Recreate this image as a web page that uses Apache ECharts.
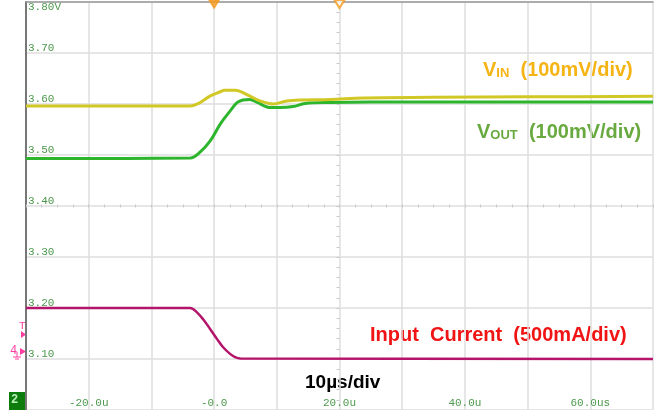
<!DOCTYPE html>
<html>
<head>
<meta charset="utf-8">
<script src="https://cdn.jsdelivr.net/npm/echarts@6/dist/echarts.min.js"></script>
<style>
  html, body { margin: 0; padding: 0; background: #fff; }
  #chart { width: 660px; height: 410px; }
</style>
</head>
<body>
<div id="chart"></div>
<script>
// Time base in microseconds (10 µs/div), vertical scale in volts (100 mV/div)
const xTickValues = [-20, 0, 20, 40, 60];
const xTickLabels = ['-20.0u', '-0.0', '20.0u', '40.0u', '60.0us'];
const yTickValues = ['3.10', '3.20', '3.30', '3.40', '3.50', '3.60', '3.70'];
const yTickLabels = ['3.10', '3.20', '3.30', '3.40', '3.50', '3.60', '3.70'];
const yTopLabel = '3.80V';

// VIN trace (V)
const vinTime = [-30, -3.8, -2.2, -0.6, 1.0, 1.6, 3.4, 5.3, 7.3, 9.4, 11.6, 13.7, 18.5, 23.8, 35, 50, 70];
const vinVolts = [3.596, 3.596, 3.603, 3.616, 3.624, 3.627, 3.627, 3.618, 3.606, 3.600, 3.606, 3.608, 3.609, 3.612, 3.613, 3.614, 3.615];

// VOUT trace (V)
const voutTime = [-30, -3.8, -2.2, -0.6, 1.0, 2.6, 3.7, 4.6, 5.7, 6.9, 8.9, 10.5, 12.6, 14.5, 18.5, 25, 50, 70];
const voutVolts = [3.493, 3.494, 3.506, 3.528, 3.561, 3.587, 3.603, 3.608, 3.609, 3.603, 3.593, 3.593, 3.595, 3.601, 3.603, 3.604, 3.604, 3.604];

// Input current trace (mA, 500 mA/div)
const curTime = [-30, -3.8, -2.7, -1.75, -0.64, 0.48, 1.44, 2.55, 3.35, 4.2, 70];
const curMilliamps = [1000, 1000, 955, 890, 795, 695, 615, 550, 518, 505, 500];

// Trigger position markers along the top edge (µs)
const triggerMarks = [0, 20];

function pairs(t, v) { return t.map((x, i) => [x, v[i]]); }

const chart = echarts.init(document.getElementById('chart'), null, { renderer: 'canvas' });

const monoLabel = { fontFamily: 'Liberation Mono, DejaVu Sans Mono, monospace', fontSize: 11, color: '#4c984c' };
const gridColor = '#dedede';

chart.setOption({
  backgroundColor: '#ffffff',
  animation: false,
  grid: { left: 26, right: 7, top: 2, bottom: -2.5 },
  xAxis: [
    {
      type: 'value', min: -30, max: 70, interval: 10, position: 'bottom',
      axisLine: { show: false, onZero: false }, axisTick: { show: false },
      splitLine: { show: true, lineStyle: { color: gridColor, width: 1.5 } },
      axisLabel: {
        inside: true, margin: 1, verticalAlign: 'bottom', ...monoLabel,
        formatter: v => { const i = xTickValues.indexOf(Math.round(v)); return i >= 0 ? xTickLabels[i] : ''; }
      }
    },
    {
      type: 'value', min: -30, max: 70, position: 'top',
      axisLine: { show: true, onZero: false, lineStyle: { color: '#999999', width: 1.5 } },
      axisTick: { show: false }, axisLabel: { show: false }, splitLine: { show: false }
    },
    {
      // centre graticule line with fine division ticks
      type: 'value', min: -30, max: 70, interval: 10, position: 'bottom', offset: -205.5,
      axisLine: { show: false, onZero: false }, axisLabel: { show: false }, splitLine: { show: false },
      axisTick: { show: true, length: 3, lineStyle: { color: '#c8c8c8' } },
      minorTick: { show: true, splitNumber: 4, length: 3, lineStyle: { color: '#c8c8c8' } }
    }
  ],
  yAxis: [
    {
      type: 'value', min: 3.0, max: 3.8, interval: 0.1, position: 'left',
      axisLine: { show: true, onZero: false, lineStyle: { color: '#777777', width: 2 } },
      axisTick: { show: false },
      splitLine: { show: true, lineStyle: { color: gridColor, width: 1.5 } },
      axisLabel: {
        inside: true, margin: 2, align: 'left', verticalAlign: 'bottom', lineHeight: 10, ...monoLabel,
        formatter: v => { const i = yTickValues.indexOf(v.toFixed(2)); return i >= 0 ? yTickLabels[i] : ''; }
      }
    },
    {
      type: 'value', min: 3.0, max: 3.8, interval: 0.1, position: 'left',
      axisLine: { show: false, onZero: false }, axisTick: { show: false }, splitLine: { show: false },
      axisLabel: {
        inside: true, margin: 2, align: 'left', verticalAlign: 'top', lineHeight: 10, ...monoLabel,
        formatter: v => (v.toFixed(2) === '3.80' ? yTopLabel : '')
      }
    },
    {
      // input current channel, 500 mA/div
      type: 'value', min: 0, max: 4000, show: false,
      axisLine: { onZero: false }
    },
    {
      // centre graticule line with fine division ticks
      type: 'value', min: 3.0, max: 3.8, interval: 0.1, position: 'left', offset: -313.5,
      axisLine: { show: false, onZero: false }, axisLabel: { show: false }, splitLine: { show: false },
      axisTick: { show: true, length: 3, lineStyle: { color: '#c8c8c8' } },
      minorTick: { show: true, splitNumber: 5, length: 3, lineStyle: { color: '#c8c8c8' } }
    }
  ],
  series: [
    {
      name: 'VOUT', type: 'line', xAxisIndex: 0, yAxisIndex: 0,
      data: pairs(voutTime, voutVolts), smooth: 0.35, showSymbol: false,
      lineStyle: { color: '#2db52d', width: 3 }
    },
    {
      name: 'VIN', type: 'line', xAxisIndex: 0, yAxisIndex: 0,
      data: pairs(vinTime, vinVolts), smooth: 0.35, showSymbol: false,
      lineStyle: { color: '#d2c825', width: 3 }
    },
    {
      name: 'Input Current', type: 'line', xAxisIndex: 0, yAxisIndex: 2,
      data: pairs(curTime, curMilliamps), smooth: 0.35, showSymbol: false,
      lineStyle: { color: '#b5146b', width: 2.5 }
    },
    {
      name: 'Trigger', type: 'scatter', xAxisIndex: 0, yAxisIndex: 0,
      data: triggerMarks.map(t => [t, 3.8]), symbolRotate: 180, symbolOffset: [0, 2],
      symbol: (v, p) => (p.dataIndex === 0 ? 'triangle' : 'emptyTriangle'),
      symbolSize: [10, 8], clip: false,
      itemStyle: { color: '#f59a1e', borderColor: '#f59a1e', borderWidth: 1.5 }
    }
  ],
  graphic: [
    {
      type: 'text', x: 483, y: 80,
      style: {
        text: '{v|V}{s|IN}{v|  (100mV/div)}', verticalAlign: 'bottom',
        rich: {
          v: { fontFamily: 'Liberation Sans, Arial', fontWeight: 'bold', fontSize: 20, fill: '#f5b414', verticalAlign: 'bottom', lineHeight: 22 },
          s: { fontFamily: 'Liberation Sans, Arial', fontWeight: 'bold', fontSize: 13, fill: '#f5b414', verticalAlign: 'bottom', lineHeight: 22 }
        }
      }
    },
    {
      type: 'text', x: 477, y: 142,
      style: {
        text: '{v|V}{s|OUT}{v|  (100mV/div)}', verticalAlign: 'bottom',
        rich: {
          v: { fontFamily: 'Liberation Sans, Arial', fontWeight: 'bold', fontSize: 20, fill: '#68aa40', verticalAlign: 'bottom', lineHeight: 22 },
          s: { fontFamily: 'Liberation Sans, Arial', fontWeight: 'bold', fontSize: 13, fill: '#68aa40', verticalAlign: 'bottom', lineHeight: 22 }
        }
      }
    },
    {
      type: 'text', x: 370, y: 345,
      style: {
        text: 'Input  Current  (500mA/div)', verticalAlign: 'bottom',
        font: 'bold 20px "Liberation Sans", Arial', fill: '#f01414'
      }
    },
    {
      type: 'text', x: 305, y: 392,
      style: {
        text: '10µs/div', verticalAlign: 'bottom',
        font: 'bold 19px "Liberation Sans", Arial', fill: '#000000'
      }
    },
    // channel reference markers on the left edge
    { type: 'text', x: 19, y: 326, style: { text: 'T', font: '11px "Liberation Mono", monospace', fill: '#ff3d9e', align: 'left', verticalAlign: 'middle' } },
    { type: 'polygon', shape: { points: [[21, 331], [26, 334.5], [21, 338]] }, style: { fill: '#ff3d9e' } },
    { type: 'text', x: 10, y: 351, style: { text: '4', font: '12px "Liberation Mono", monospace', fill: '#ff3d9e', align: 'left', verticalAlign: 'middle' } },
    { type: 'polygon', shape: { points: [[20, 348], [26, 351.5], [20, 355]] }, style: { fill: '#ff3d9e' } },
    { type: 'line', shape: { x1: 17, y1: 352, x2: 17, y2: 357 }, style: { stroke: '#ff3d9e', lineWidth: 1 } },
    { type: 'line', shape: { x1: 13, y1: 357, x2: 21, y2: 357 }, style: { stroke: '#ff3d9e', lineWidth: 1 } },
    { type: 'line', shape: { x1: 15, y1: 359, x2: 19, y2: 359 }, style: { stroke: '#ff3d9e', lineWidth: 1 } },
    { type: 'rect', shape: { x: 9, y: 392, width: 16, height: 18 }, style: { fill: '#0c7c0c' } },
    { type: 'text', x: 11, y: 400, style: { text: '2', font: 'bold 12px "Liberation Mono", monospace', fill: '#b8f0b8', verticalAlign: 'middle' } }
  ]
});
</script>
</body>
</html>
